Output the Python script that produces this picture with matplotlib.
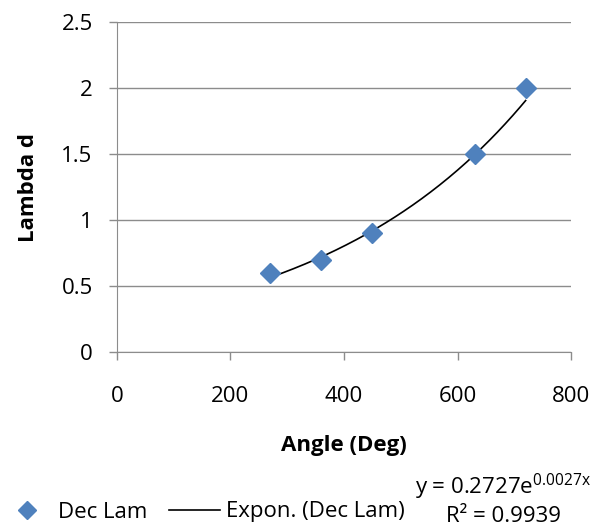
import numpy as np
import matplotlib.pyplot as plt
from matplotlib.lines import Line2D

# Measured data
angle = [270, 360, 450, 630, 720]
lambda_d = [0.6, 0.7, 0.9, 1.5, 2.0]

# Exponential trendline fit coefficients
fit_a = 0.2727
fit_b = 0.0027
fit_r2 = 0.9939

plt.rcParams['font.family'] = ['Open Sans', 'DejaVu Sans']
FS = 16

fig = plt.figure(figsize=(6.03, 5.31), dpi=100)
ax = fig.add_axes([0.194, 0.337, 0.753, 0.6215])

xs = np.linspace(min(angle), max(angle), 200)
ax.plot(xs, fit_a * np.exp(fit_b * xs), color='black', lw=1.2, zorder=2)
ax.plot(angle, lambda_d, linestyle='none', marker='D', markersize=10,
        color='#4F81BD', markeredgecolor='#4F81BD', zorder=3)

ax.set_xlim(0, 800)
ax.set_ylim(0, 2.5)
ax.set_xticks([0, 200, 400, 600, 800])
ax.set_yticks([0, 0.5, 1, 1.5, 2, 2.5])
ax.set_yticklabels(['0', '0.5', '1', '1.5', '2', '2.5'])
ax.grid(axis='y', color='#8c8c8c', lw=1)
ax.set_axisbelow(True)
for side in ['top', 'right']:
    ax.spines[side].set_visible(False)
for side in ['left', 'bottom']:
    ax.spines[side].set_color('#8c8c8c')
ax.tick_params(axis='both', colors='#8c8c8c', labelcolor='black',
               labelsize=FS, length=5.5, width=1, direction='out')
ax.tick_params(axis='x', pad=19)
ax.tick_params(axis='y', pad=12)

ax.set_xlabel('Angle (Deg)', fontsize=FS, fontweight='bold', labelpad=20)
ax.set_ylabel('Lambda d', fontsize=FS, fontweight='bold', labelpad=16)

# Legend row below the plot
handles = [
    Line2D([], [], linestyle='none', marker='D', markersize=9, color='#4F81BD'),
    Line2D([], [], color='black', lw=1.2),
]
fig.legend(handles, ['Dec Lam', 'Expon. (Dec Lam)'], loc='center left',
           bbox_to_anchor=(1 / 603, 1 - 512 / 531), frameon=False, fontsize=FS,
           ncol=2, handlelength=2.3, handletextpad=0.25, columnspacing=1.0,
           borderpad=0, borderaxespad=0)

fig.text(503 / 603, 1 - 487 / 531,
         f'y = {fit_a}e$\\mathregular{{^{{{fit_b}x}}}}$', fontsize=FS,
         ha='center', va='center')
fig.text(504 / 603, 1 - 517 / 531, f'R² = {fit_r2}', fontsize=FS,
         ha='center', va='center')

fig.savefig('out.png', dpi=100)
